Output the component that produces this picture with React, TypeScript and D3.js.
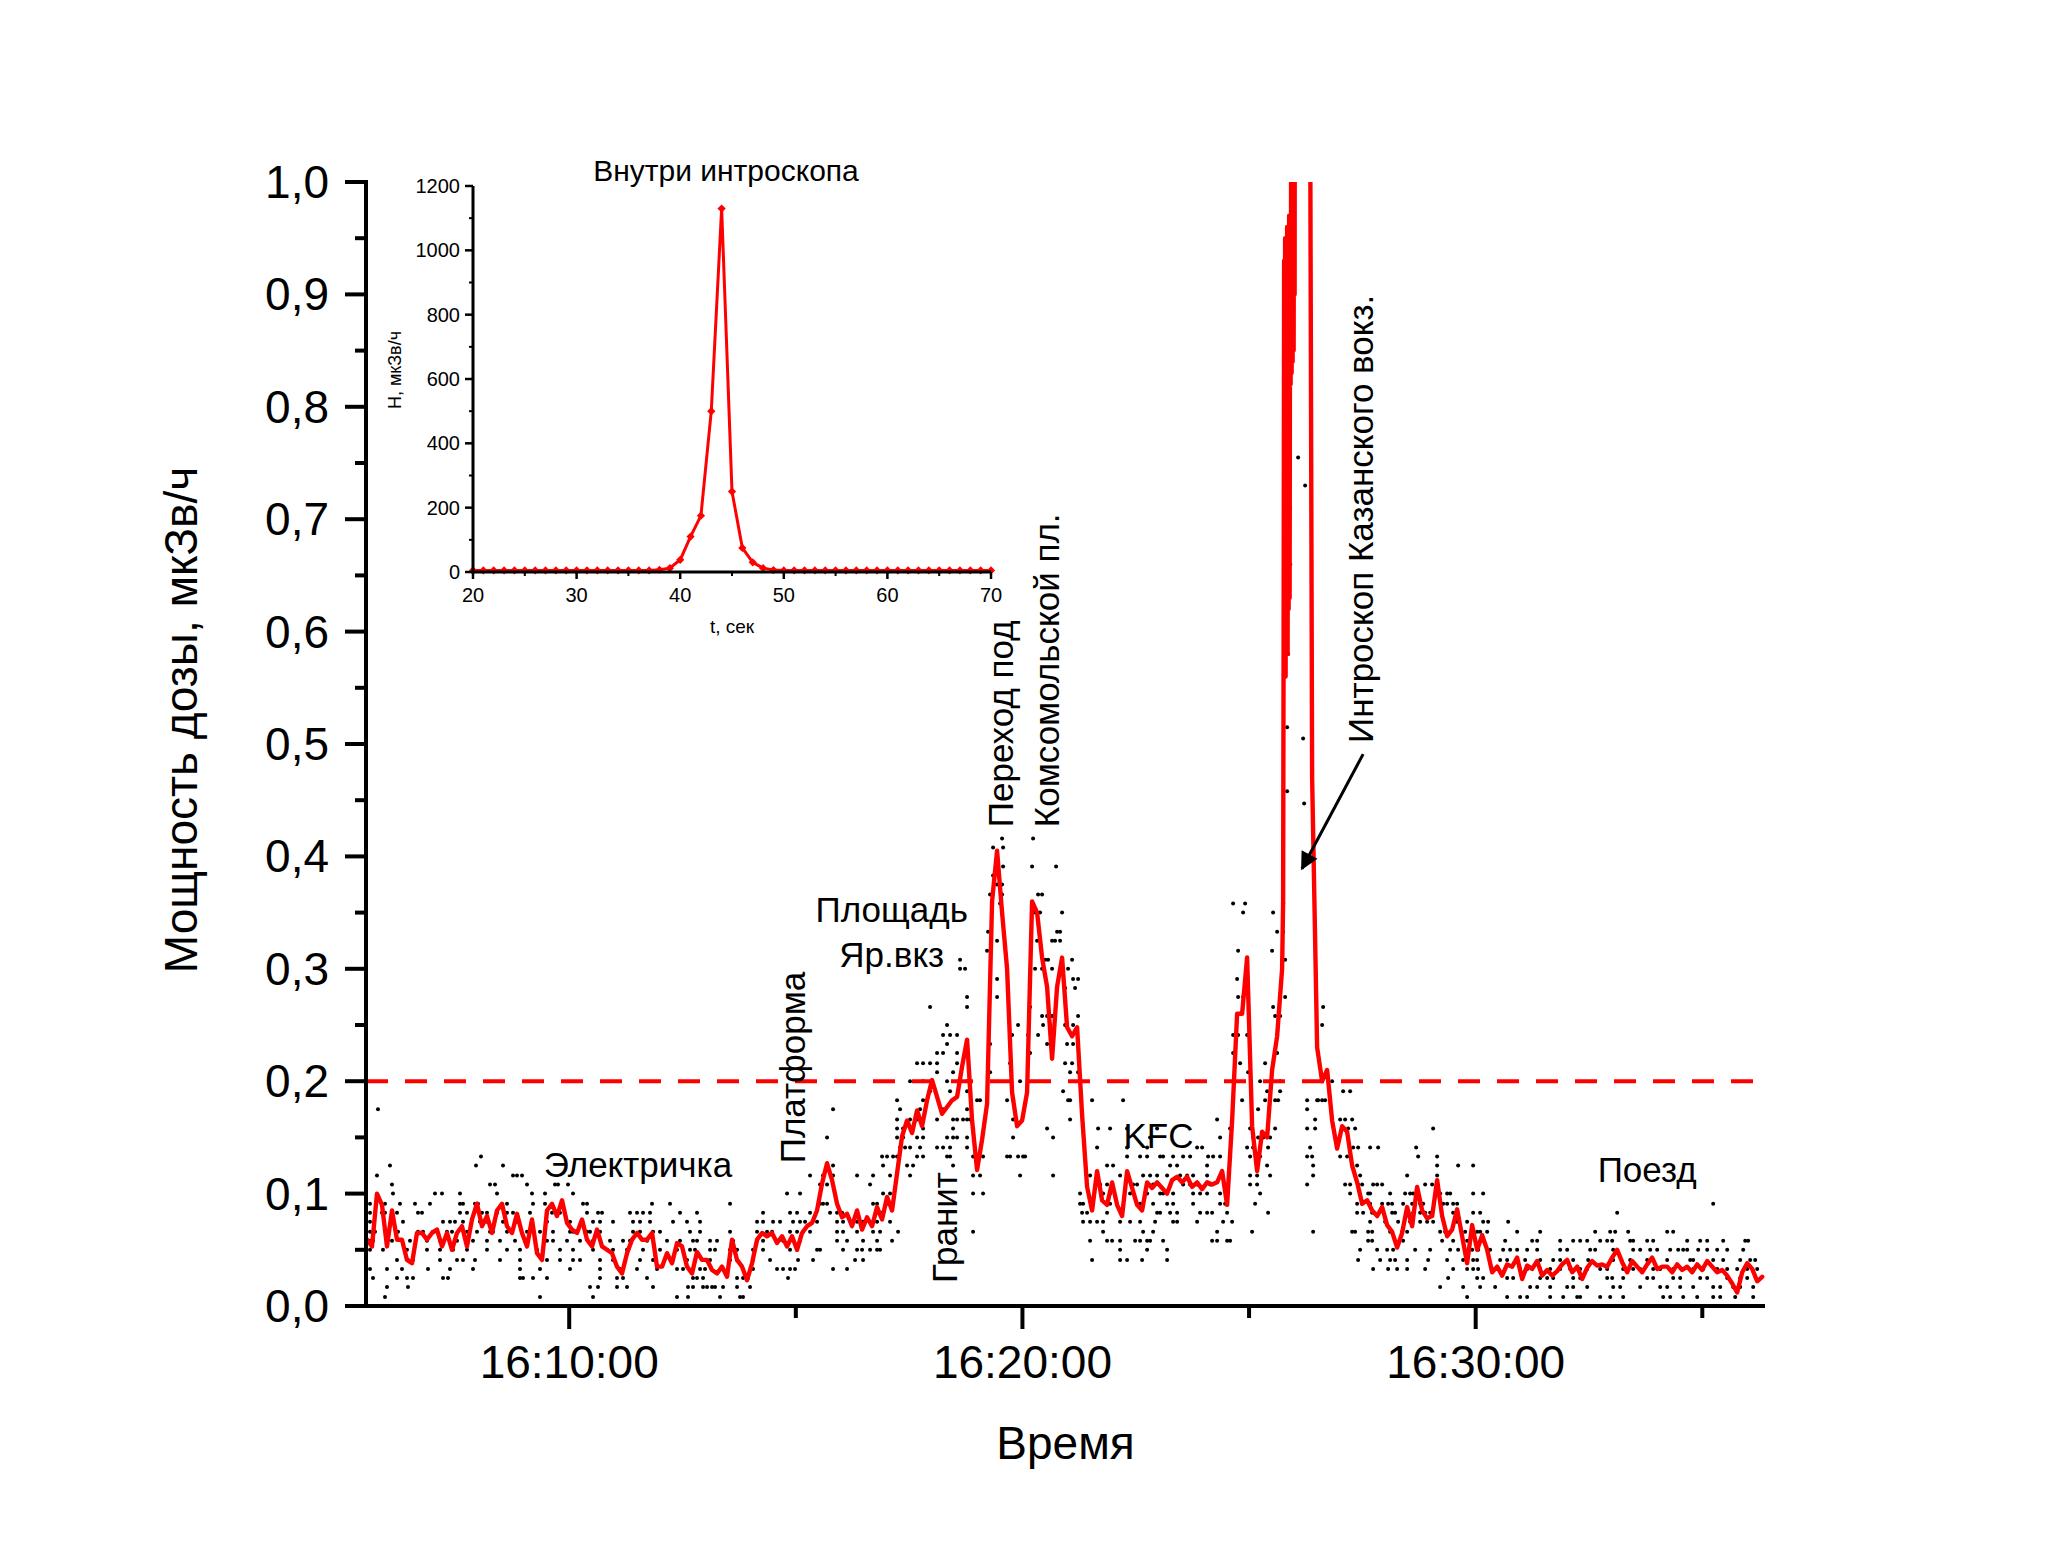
import React from "react";
import * as d3 from "d3";

const W = 2048;
const H = 1567;
const FONT = "'Liberation Sans', Arial, sans-serif";
const RED = "#ff0000";

// ---------- time base ----------
const DAY0 = new Date(2021, 0, 1, 16, 0, 0).getTime();
const at = (sec: number) => new Date(DAY0 + sec * 1000);
const X_DOMAIN_S = [331, 2183]; // 16:05:31 .. 16:36:23
const SAMPLE_START_S = 332.3; // first smoothed sample (16:05:32)
const SAMPLE_STEP_S = 6.62; // smoothed sample spacing

// ---------- main series: smoothed dose rate, мкЗв/ч ----------
const smoothedDose = [
  0.059, 0.053, 0.1, 0.09, 0.053, 0.085, 0.059, 0.059, 0.041, 0.038,
  0.065, 0.065, 0.059, 0.065, 0.068, 0.053, 0.065, 0.05, 0.065, 0.071,
  0.053, 0.077, 0.091, 0.071, 0.08, 0.065, 0.085, 0.091, 0.071, 0.065,
  0.082, 0.065, 0.053, 0.077, 0.047, 0.041, 0.085, 0.091, 0.08, 0.094,
  0.074, 0.068, 0.065, 0.077, 0.059, 0.053, 0.068, 0.053, 0.05, 0.047,
  0.035, 0.029, 0.047, 0.059, 0.065, 0.059, 0.059, 0.065, 0.035, 0.035,
  0.047, 0.038, 0.056, 0.053, 0.035, 0.029,
  0.048, 0.041, 0.041, 0.032, 0.029, 0.035, 0.026, 0.059, 0.041, 0.035,
  0.023, 0.038, 0.059, 0.065, 0.062, 0.065, 0.056, 0.062, 0.053, 0.062,
  0.05, 0.065, 0.071, 0.074, 0.085, 0.109, 0.127, 0.112, 0.091, 0.079,
  0.082, 0.071, 0.085, 0.068, 0.079, 0.071, 0.088, 0.077, 0.097, 0.085,
  0.118, 0.151, 0.165, 0.154, 0.174, 0.16, 0.183, 0.201, 0.186, 0.171,
  0.177, 0.183, 0.186, 0.213, 0.237, 0.165, 0.121, 0.148, 0.18, 0.36,
  0.405, 0.35, 0.3, 0.19, 0.16, 0.165, 0.19,
  0.36, 0.35, 0.31, 0.284, 0.22, 0.284, 0.31, 0.248, 0.24, 0.248,
  0.17, 0.106, 0.085, 0.12, 0.094, 0.09, 0.11, 0.09, 0.08, 0.12,
  0.105, 0.09, 0.085, 0.11, 0.105, 0.11, 0.105, 0.1, 0.112, 0.115,
  0.11, 0.115, 0.106, 0.11, 0.104, 0.11, 0.108, 0.11, 0.12, 0.09,
  0.165, 0.26, 0.26, 0.31, 0.16, 0.12, 0.155, 0.15, 0.21, 0.24,
  0.3,
  0.9, 0.85, 3.0, 8.0, 2.0, 0.47,
  0.23, 0.2, 0.21, 0.165, 0.14, 0.16, 0.155, 0.125, 0.11, 0.091,
  0.094, 0.085, 0.08, 0.088, 0.072, 0.066, 0.052, 0.065, 0.088, 0.071,
  0.106, 0.085, 0.078, 0.08, 0.112, 0.08, 0.062, 0.068, 0.086, 0.062,
  0.038, 0.072, 0.05, 0.063, 0.05, 0.03, 0.035, 0.027, 0.037, 0.035,
  0.043, 0.024, 0.036, 0.033, 0.04, 0.027, 0.032, 0.027, 0.031, 0.037,
  0.041, 0.03, 0.035, 0.024, 0.034, 0.04, 0.036, 0.037, 0.035, 0.043,
  0.05, 0.039, 0.03, 0.04, 0.035, 0.03, 0.037, 0.043, 0.033, 0.035,
  0.035, 0.03, 0.037, 0.032, 0.035, 0.03, 0.037, 0.032, 0.04, 0.035,
  0.03, 0.032, 0.027, 0.02, 0.012, 0.03, 0.038, 0.033, 0.022, 0.026,
];

// fine structure of the introscope burst: [sample index, value]
const introscopeBurst: [number, number][] = [
  [183.2, 0.36], [183.3, 0.6], [183.4, 0.93], [183.5, 0.57], [183.6, 0.95],
  [183.7, 0.56], [183.8, 0.94], [183.9, 0.6], [184.0, 0.96], [184.1, 0.58],
  [184.2, 0.95], [184.3, 0.62], [184.4, 0.97], [184.5, 0.63], [184.6, 0.96],
  [184.7, 0.82], [184.8, 1.01], [184.9, 0.83], [185.0, 1.03], [185.1, 0.84],
  [185.2, 1.04], [185.3, 0.85], [185.4, 1.08], [185.5, 0.9], [185.6, 1.5],
];

// raw readings (black dots): [value, sample positions]
const rawDotRows: [number, number[]][] = [
  [0.008, [3.6, 34.6, 45.2, 62.0, 64.2, 70.6, 74.6, 75.2, 220.0, 228.0, 230.6, 232.0, 236.6, 239.2, 242.0, 242.6, 246.6, 248.6, 251.2, 259.2, 260.6, 263.2, 266.0, 269.2, 270.6, 273.6, 277.2]],
  [0.017, [4.0, 8.2, 44.6, 46.2, 50.0, 52.0, 57.2, 64.2, 65.2, 67.2, 68.0, 69.0, 69.6, 71.2, 74.0, 76.6, 214.6, 219.2, 222.6, 225.6, 232.6, 234.0, 236.6, 240.0, 241.2, 244.0, 249.2, 250.6, 254.6, 258.6, 260.0, 262.6, 265.2, 269.2, 270.6, 273.2, 274.6, 277.2]],
  [0.025, [1.2, 6.0, 8.0, 9.2, 15.2, 16.2, 30.6, 31.2, 33.2, 36.0, 46.6, 50.0, 51.2, 56.0, 65.2, 66.0, 67.2, 74.0, 75.2, 76.2, 84.2, 216.2, 222.0, 223.2, 228.0, 229.2, 234.6, 236.0, 237.2, 241.2, 242.6, 248.0, 249.0, 251.2, 256.0, 257.2, 261.2, 262.6, 266.6, 268.0, 272.0, 274.6, 276.0]],
  [0.033, [0.6, 4.0, 7.0, 12.2, 16.6, 21.2, 30.6, 34.6, 40.6, 46.6, 50.6, 51.2, 54.0, 58.0, 62.0, 63.2, 66.6, 67.6, 71.2, 72.2, 77.2, 82.0, 83.2, 84.6, 85.6, 93.2, 96.0, 201.2, 204.2, 206.0, 208.0, 211.6, 217.2, 220.0, 221.2, 222.2, 226.0, 230.6, 232.0, 234.6, 236.6, 238.6, 240.6, 242.6, 244.0, 246.6, 248.0, 251.2, 253.2, 254.6, 257.2, 258.6, 261.2, 263.2, 265.2, 267.2, 270.0, 272.0, 274.0, 276.0, 278.0]],
  [0.041, [6.0, 8.2, 9.2, 14.6, 18.0, 19.2, 21.6, 26.6, 30.6, 36.0, 38.6, 41.2, 42.6, 46.6, 49.2, 54.6, 57.2, 61.2, 64.0, 67.2, 68.6, 72.6, 74.0, 77.2, 80.6, 86.2, 89.2, 97.6, 99.2, 145.0, 150.6, 152.0, 155.0, 160.0, 198.2, 202.6, 204.6, 205.6, 208.0, 212.2, 216.0, 219.2, 221.2, 222.0, 226.6, 228.0, 231.6, 234.6, 237.2, 238.6, 241.2, 244.2, 249.2, 252.6, 256.0, 260.0, 264.6, 265.2, 269.2, 271.2, 274.6, 276.6, 277.6]],
  [0.05, [0.6, 3.2, 8.0, 12.0, 14.6, 17.2, 20.0, 24.0, 28.0, 30.6, 34.0, 38.6, 41.2, 45.2, 48.0, 49.2, 52.0, 55.2, 58.6, 62.0, 64.6, 65.6, 68.6, 69.6, 72.6, 74.0, 77.2, 79.2, 84.6, 86.0, 90.0, 90.6, 95.2, 98.0, 99.0, 100.6, 102.0, 102.6, 150.6, 156.0, 160.0, 198.6, 202.0, 204.0, 205.2, 209.6, 212.6, 216.6, 218.2, 221.0, 222.2, 224.6, 227.2, 228.6, 230.0, 232.0, 234.0, 238.6, 240.0, 244.6, 245.6, 249.2, 253.2, 254.6, 256.6, 258.0, 260.6, 262.2, 263.2, 264.0, 266.2, 268.0, 270.0, 272.0, 275.2]],
  [0.058, [0.6, 1.2, 5.0, 8.6, 12.0, 14.6, 18.0, 21.2, 24.0, 26.6, 29.6, 32.0, 36.0, 37.2, 40.0, 42.6, 45.2, 48.6, 51.2, 52.6, 56.0, 60.0, 62.6, 65.2, 66.0, 68.6, 70.0, 73.2, 78.0, 79.2, 82.0, 83.2, 86.6, 94.0, 96.0, 99.2, 102.0, 105.0, 144.6, 148.0, 149.0, 150.6, 153.6, 154.6, 156.0, 156.6, 159.2, 169.0, 170.0, 172.0, 172.6, 200.2, 201.0, 207.2, 215.0, 217.2, 220.0, 220.6, 223.2, 227.6, 233.0, 234.0, 238.6, 241.2, 242.6, 244.0, 246.6, 248.0, 249.0, 252.6, 253.2, 256.0, 257.2, 264.0, 266.6, 268.0, 271.2, 275.6, 276.2]],
  [0.066, [0.6, 1.6, 6.2, 10.2, 11.2, 13.2, 16.0, 17.0, 20.0, 22.0, 24.6, 25.2, 28.0, 32.0, 34.6, 37.2, 40.6, 41.2, 44.0, 44.6, 46.6, 53.2, 54.6, 57.2, 58.6, 64.6, 66.6, 72.6, 78.0, 80.0, 81.0, 84.6, 86.0, 87.2, 88.6, 94.0, 95.2, 98.0, 101.2, 102.6, 106.2, 121.2, 147.2, 155.2, 157.2, 170.0, 177.0, 189.2, 197.0, 197.6, 200.2, 201.0, 204.6, 207.0, 208.0, 214.6, 215.6, 216.6, 219.6, 222.0, 222.6, 224.0, 230.0, 234.6, 245.6, 248.6, 249.6, 252.2, 260.0, 261.2]],
  [0.075, [0.6, 5.2, 7.2, 15.2, 16.6, 17.6, 19.2, 22.6, 24.0, 27.2, 30.0, 36.0, 40.6, 45.2, 46.6, 49.2, 53.2, 54.6, 56.6, 61.2, 64.0, 66.6, 78.0, 79.2, 81.2, 82.6, 85.2, 86.6, 87.6, 90.0, 94.0, 95.2, 98.0, 99.2, 102.0, 104.6, 143.2, 144.6, 146.0, 147.2, 150.6, 152.6, 154.6, 157.6, 161.2, 162.0, 166.0, 171.2, 173.0, 200.6, 203.6, 206.2, 208.6, 210.6, 212.0, 213.2, 218.0, 220.0, 223.2, 224.2, 228.2]],
  [0.083, [0.6, 3.0, 3.6, 6.0, 10.2, 11.0, 18.6, 20.0, 23.0, 24.0, 26.0, 28.0, 29.2, 32.6, 36.0, 37.0, 38.6, 44.0, 46.2, 47.0, 52.6, 54.0, 55.2, 56.6, 62.6, 66.0, 79.2, 84.6, 86.0, 88.6, 92.6, 94.0, 95.0, 98.0, 102.0, 103.0, 143.0, 144.0, 148.0, 158.0, 158.6, 160.6, 162.0, 166.6, 168.0, 169.0, 172.0, 180.2, 198.0, 199.2, 201.0, 205.0, 205.6, 208.0, 209.2, 210.6, 211.6, 212.6, 217.2, 221.2, 222.6, 250.0]],
  [0.091, [0.6, 3.6, 6.6, 9.6, 12.6, 18.6, 19.2, 21.6, 22.2, 28.0, 33.2, 35.6, 43.2, 44.0, 57.0, 60.6, 72.6, 90.6, 91.2, 92.0, 101.2, 102.0, 104.0, 104.6, 142.6, 143.2, 148.6, 154.6, 157.2, 160.0, 161.2, 165.2, 170.6, 171.6, 177.6, 198.0, 199.0, 200.6, 203.0, 204.2, 205.0, 207.2, 209.0, 210.6, 211.2, 215.2, 216.0, 217.2, 218.0, 269.2]],
  [0.1, [5.2, 13.6, 15.0, 18.6, 26.0, 33.0, 35.6, 41.2, 84.0, 86.6, 103.2, 104.6, 121.2, 123.2, 142.6, 147.2, 148.6, 152.6, 156.0, 158.6, 159.2, 161.2, 165.2, 166.6, 168.0, 170.6, 172.0, 178.6, 196.6, 200.2, 200.6, 204.6, 207.6, 208.6, 209.2, 214.6, 216.0, 216.6, 221.2, 223.2]],
  [0.108, [5.0, 24.6, 25.6, 32.0, 37.6, 38.2, 40.2, 90.6, 92.0, 100.6, 146.6, 148.0, 153.2, 154.0, 157.2, 163.2, 164.6, 166.0, 168.6, 176.6, 178.0, 188.0, 195.6, 196.6, 198.2, 199.0, 201.2, 202.0, 203.0, 211.6, 213.0]],
  [0.116, [2.0, 29.2, 30.0, 31.0, 88.6, 91.2, 93.2, 98.0, 101.2, 104.6, 108.6, 121.2, 122.6, 130.6, 137.2, 144.6, 146.0, 150.6, 155.2, 156.6, 158.0, 160.0, 162.6, 164.0, 165.2, 168.0, 176.6, 178.0, 180.6, 189.2, 198.6, 208.0, 214.0]],
  [0.125, [4.6, 21.8, 27.2, 93.2, 103.2, 108.0, 109.2, 117.2, 148.0, 149.2, 160.6, 162.0, 168.0, 180.0, 189.2, 198.0, 214.0, 218.2, 221.2]],
  [0.133, [22.8, 103.0, 104.0, 105.2, 106.0, 110.0, 111.2, 116.0, 116.6, 121.2, 123.2, 128.0, 128.6, 130.2, 131.2, 131.6, 152.0, 154.6, 156.0, 158.6, 159.2, 161.2, 163.2, 164.6, 168.2, 169.2, 170.6, 172.6, 176.6, 178.6, 188.0, 189.0, 194.6, 196.0, 210.2, 214.0]],
  [0.141, [106.6, 107.6, 108.6, 110.6, 114.0, 115.2, 116.6, 120.0, 146.0, 152.0, 156.0, 166.0, 167.0, 176.0, 177.2, 180.2, 188.6, 197.2, 198.2, 200.6, 202.2, 209.8]],
  [0.15, [92.0, 106.0, 107.2, 110.0, 111.2, 116.0, 117.2, 118.0, 120.0, 129.2, 137.2, 156.6, 170.6, 177.2, 178.2, 179.2, 180.6]],
  [0.158, [106.0, 107.2, 111.2, 117.2, 121.2, 136.0, 146.2, 148.6, 152.0, 158.0, 172.6, 176.6, 180.2, 181.6, 188.0, 189.6, 195.0, 196.2, 197.6, 213.2]],
  [0.166, [106.0, 108.6, 110.0, 114.0, 117.2, 118.0, 119.2, 120.0, 120.6, 129.2, 140.6, 170.0, 189.6, 194.6, 195.6, 197.0]],
  [0.175, [2.2, 93.2, 106.6, 110.6, 115.2, 120.0, 178.2, 188.0]],
  [0.183, [106.0, 111.2, 122.0, 122.6, 128.0, 129.2, 140.2, 140.6, 145.0, 151.2, 175.0, 179.6, 181.6, 182.2, 188.0, 190.0, 190.2, 191.0, 191.6]],
  [0.191, [112.6, 116.6, 120.0, 139.2, 180.0, 182.6, 195.2, 196.6]],
  [0.2, [108.6, 111.2, 116.0, 120.0, 130.6, 178.6, 182.6, 193.0]],
  [0.208, [114.0, 117.2, 124.6, 140.6, 142.2, 176.2]],
  [0.216, [110.0, 111.2, 112.6, 114.0, 118.0, 128.6, 139.6, 141.0, 174.6, 179.6]],
  [0.225, [114.0, 115.2, 118.0, 132.6, 173.2, 182.0]],
  [0.233, [116.0, 124.6, 136.0, 140.0, 141.2, 142.2]],
  [0.241, [115.2, 116.6, 118.0, 129.0, 132.2, 134.2, 173.2, 174.2, 176.0]],
  [0.25, [116.0, 130.2, 135.2, 136.6, 139.6, 141.2, 191.0]],
  [0.258, [135.0, 136.0, 137.0, 142.2, 181.6, 182.6]],
  [0.266, [112.6, 120.0, 132.6, 181.2, 191.2]],
  [0.275, [120.0, 126.0, 174.2, 175.2, 183.6]],
  [0.283, [138.0, 139.6, 141.6]],
  [0.291, [126.0, 141.2, 142.2, 174.0]],
  [0.3, [118.6, 119.6, 133.6, 135.0, 137.0, 140.2]],
  [0.308, [118.6, 135.6, 136.2, 139.0, 141.0, 183.0, 183.6]],
  [0.316, [124.0, 174.2, 181.0]],
  [0.325, [126.0, 134.0, 137.0, 137.6, 138.6]],
  [0.333, [124.2, 138.0, 138.6, 182.0, 183.2]],
  [0.35, [133.6, 134.6, 139.0, 175.2, 181.2]],
  [0.358, [126.6, 173.2, 175.6, 183.2]],
  [0.366, [124.6, 127.0, 134.2, 135.0]],
  [0.375, [126.0, 127.0]],
  [0.383, [125.2]],
  [0.391, [127.2, 133.0, 137.8]],
  [0.408, [125.2, 127.2]],
  [0.416, [127.0, 133.2]],
  [0.447, [187.4]],
  [0.458, [184.0]],
  [0.505, [187.2]],
  [0.515, [184.0]],
  [0.58, [184.2]],
  [0.66, [184.6]],
  [0.71, [184.6]],
  [0.73, [187.6]],
  [0.755, [186.2]],
  [0.885, [185.0]],
  [0.93, [183.6]],
];

const THRESHOLD = 0.2;
const yMajorTicks = [0, 0.1, 0.2, 0.3, 0.4, 0.5, 0.6, 0.7, 0.8, 0.9, 1.0];
const yMinorTicks = [0.05, 0.15, 0.25, 0.35, 0.45, 0.55, 0.65, 0.75, 0.85, 0.95];
const xMajorTicksS = [600, 1200, 1800]; // 16:10, 16:20, 16:30
const xMinorTicksS = [900, 1500, 2100]; // 16:15, 16:25, 16:35

// annotations placed in data coordinates (seconds since 16:00, value)
const flatLabels = [
  { text: "Электричка", t: 691, v: 0.115 },
  { text: "Поезд", t: 2027, v: 0.11 },
  { text: "KFC", t: 1380, v: 0.141 },
  { text: "Площадь", t: 1027, v: 0.342 },
  { text: "Яр.вкз", t: 1027, v: 0.302 },
];
const verticalLabels = [
  { text: "Платформа", t: 912, v: 0.127 },
  { text: "Гранит", t: 1113, v: 0.0205 },
  { text: "Переход под", t: 1187, v: 0.426 },
  { text: "Комсомольской пл.", t: 1248, v: 0.426 },
  { text: "Интроскоп Казанского вокз.", t: 1664, v: 0.501 },
];
const arrowFrom = { t: 1651, v: 0.491 };
const arrowTo = { t: 1570, v: 0.389 };

// ---------- inset: inside the introscope ----------
const insetT = d3.range(20, 71);
const insetH = [
  5, 5, 5, 5, 5, 5, 5, 5, 5, 5, 5, 5, 5, 5, 5, 5, 5, 5,
  7, 12, 38, 110, 175, 500, 1130, 250, 75, 30, 12, 6,
  5, 5, 5, 5, 5, 5, 5, 5, 5, 5, 5, 5, 5, 5, 5, 5, 5, 5, 5, 5, 5,
];
const insetXTicks = [20, 30, 40, 50, 60, 70];
const insetXMinor = [25, 35, 45, 55, 65];
const insetYTicks = [0, 200, 400, 600, 800, 1000, 1200];
const insetYMinor = [100, 300, 500, 700, 900, 1100];

export default function App() {
  const x = d3.scaleTime().domain([at(X_DOMAIN_S[0]), at(X_DOMAIN_S[1])]).range([366, 1765]);
  const y = d3.scaleLinear().domain([0, 1]).range([1306, 182]);
  const sampleTime = (s: number) => at(SAMPLE_START_S + s * SAMPLE_STEP_S);

  const pts: [number, number][] = smoothedDose
    .map((v, i) => [i, v] as [number, number])
    .filter(([i]) => i <= 183 || i >= 186)
    .concat(introscopeBurst)
    .sort((a, b) => a[0] - b[0]);

  const redLine = d3
    .line<[number, number]>()
    .x((d) => x(sampleTime(d[0])))
    .y((d) => y(d[1]))(pts) as string;

  const dots: { k: number; v: number }[] = [];
  rawDotRows.forEach(([v, ks]) => ks.forEach((k) => dots.push({ k, v })));

  const [x0, x1] = x.range();
  const [yBottom, yTop] = y.range();
  const fmtY = (v: number) => d3.format(".1f")(v).replace(".", ",");
  const fmtT = d3.timeFormat("%H:%M:%S");

  // inset scales
  const xi = d3.scaleLinear().domain([20, 70]).range([473, 991]);
  const yi = d3.scaleLinear().domain([0, 1200]).range([572, 186]);
  const insetPts = insetT.map((t, i) => [t, insetH[i]] as [number, number]);
  const insetLine = d3
    .line<[number, number]>()
    .x((d) => xi(d[0]))
    .y((d) => yi(d[1]))(insetPts) as string;
  const diamond = d3.symbol(d3.symbolSquare, 34)() as string;

  return (
    <svg
      width={W}
      height={H}
      viewBox={`0 0 ${W} ${H}`}
      style={{ position: "absolute", left: 0, top: 0, background: "#fff" }}
      fontFamily={FONT}
    >
      <defs>
        <clipPath id="plotClip">
          <rect x={x0} y={yTop} width={x1 - x0} height={yBottom - yTop + 10} />
        </clipPath>
        <marker id="arrowHead" viewBox="0 0 10 10" refX="9" refY="5" markerWidth="7" markerHeight="6" orient="auto" markerUnits="strokeWidth">
          <path d="M0,0 L10,5 L0,10 z" fill="#000" />
        </marker>
      </defs>
      <rect x={0} y={0} width={W} height={H} fill="#fff" />

      {/* raw readings */}
      <g clipPath="url(#plotClip)">
        {dots.map((d, i) => (
          <circle key={i} cx={x(sampleTime(d.k))} cy={y(d.v)} r={2} fill="#000" />
        ))}
      </g>

      {/* threshold */}
      <line
        x1={x0}
        x2={x1}
        y1={y(THRESHOLD)}
        y2={y(THRESHOLD)}
        stroke={RED}
        strokeWidth={4}
        strokeDasharray="22,17"
      />

      {/* smoothed line */}
      <g clipPath="url(#plotClip)">
        <path d={redLine} fill="none" stroke={RED} strokeWidth={4.4} strokeLinejoin="round" strokeLinecap="round" />
      </g>

      {/* main axes */}
      <g stroke="#000" strokeWidth={4}>
        <line x1={x0} x2={x0} y1={yTop - 2} y2={yBottom + 2} />
        <line x1={x0 - 2} x2={x1} y1={yBottom} y2={yBottom} />
        {yMajorTicks.map((v) => (
          <line key={"ym" + v} x1={x0 - 21} x2={x0} y1={y(v)} y2={y(v)} />
        ))}
        {yMinorTicks.map((v) => (
          <line key={"yn" + v} x1={x0 - 11} x2={x0} y1={y(v)} y2={y(v)} />
        ))}
        {xMajorTicksS.map((s) => (
          <line key={"xm" + s} x1={x(at(s))} x2={x(at(s))} y1={yBottom} y2={yBottom + 23} />
        ))}
        {xMinorTicksS.map((s) => (
          <line key={"xn" + s} x1={x(at(s))} x2={x(at(s))} y1={yBottom} y2={yBottom + 12} />
        ))}
      </g>
      <g fontSize={46} fill="#000">
        {yMajorTicks.map((v) => (
          <text key={"yl" + v} x={x0 - 37} y={y(v) + 16} textAnchor="end">
            {fmtY(v)}
          </text>
        ))}
        {xMajorTicksS.map((s) => (
          <text key={"xl" + s} x={x(at(s))} y={1378} textAnchor="middle">
            {fmtT(at(s))}
          </text>
        ))}
        <text x={(x0 + x1) / 2} y={1459} textAnchor="middle">
          Время
        </text>
        <text transform={`translate(197, 720) rotate(-90)`} textAnchor="middle">
          Мощность дозы, мкЗв/ч
        </text>
      </g>

      {/* annotations */}
      <g fontSize={35} fill="#000">
        {flatLabels.map((l) => (
          <text key={l.text} x={x(at(l.t))} y={y(l.v)} textAnchor="middle">
            {l.text}
          </text>
        ))}
        {verticalLabels.map((l) => (
          <text key={l.text} transform={`translate(${x(at(l.t))}, ${y(l.v)}) rotate(-90)`} textAnchor="start">
            {l.text}
          </text>
        ))}
      </g>
      <line
        x1={x(at(arrowFrom.t))}
        y1={y(arrowFrom.v)}
        x2={x(at(arrowTo.t))}
        y2={y(arrowTo.v)}
        stroke="#000"
        strokeWidth={3}
        markerEnd="url(#arrowHead)"
      />

      {/* inset */}
      <g>
        <path d={insetLine} fill="none" stroke={RED} strokeWidth={3} strokeLinejoin="round" />
        {insetPts.map((d, i) => (
          <path key={i} d={diamond} transform={`translate(${xi(d[0])}, ${yi(d[1])}) rotate(45)`} fill={RED} />
        ))}
        <g stroke="#000">
          <line x1={xi(20)} x2={xi(20)} y1={yi(1200)} y2={yi(0) + 1.5} strokeWidth={3} />
          <line x1={xi(20) - 1.5} x2={xi(70)} y1={yi(0)} y2={yi(0)} strokeWidth={3} />
          {insetYTicks.map((v) => (
            <line key={"iy" + v} x1={xi(20) - 8} x2={xi(20)} y1={yi(v)} y2={yi(v)} strokeWidth={2.5} />
          ))}
          {insetYMinor.map((v) => (
            <line key={"iyn" + v} x1={xi(20) - 4} x2={xi(20)} y1={yi(v)} y2={yi(v)} strokeWidth={2} />
          ))}
          {insetXTicks.map((t) => (
            <line key={"ix" + t} x1={xi(t)} x2={xi(t)} y1={yi(0)} y2={yi(0) + 7} strokeWidth={2.5} />
          ))}
          {insetXMinor.map((t) => (
            <line key={"ixn" + t} x1={xi(t)} x2={xi(t)} y1={yi(0)} y2={yi(0) + 4} strokeWidth={2} />
          ))}
        </g>
        <g fontSize={20} fill="#000">
          {insetYTicks.map((v) => (
            <text key={"iyl" + v} x={xi(20) - 13} y={yi(v) + 7} textAnchor="end">
              {v}
            </text>
          ))}
          {insetXTicks.map((t) => (
            <text key={"ixl" + t} x={xi(t)} y={602} textAnchor="middle">
              {t}
            </text>
          ))}
        </g>
        <text x={(xi(20) + xi(70)) / 2} y={633} textAnchor="middle" fontSize={19}>
          t, сек
        </text>
        <text transform={`translate(401, 370) rotate(-90)`} textAnchor="middle" fontSize={18}>
          H, мкЗв/ч
        </text>
        <text x={726} y={181} textAnchor="middle" fontSize={30}>
          Внутри интроскопа
        </text>
      </g>
    </svg>
  );
}
